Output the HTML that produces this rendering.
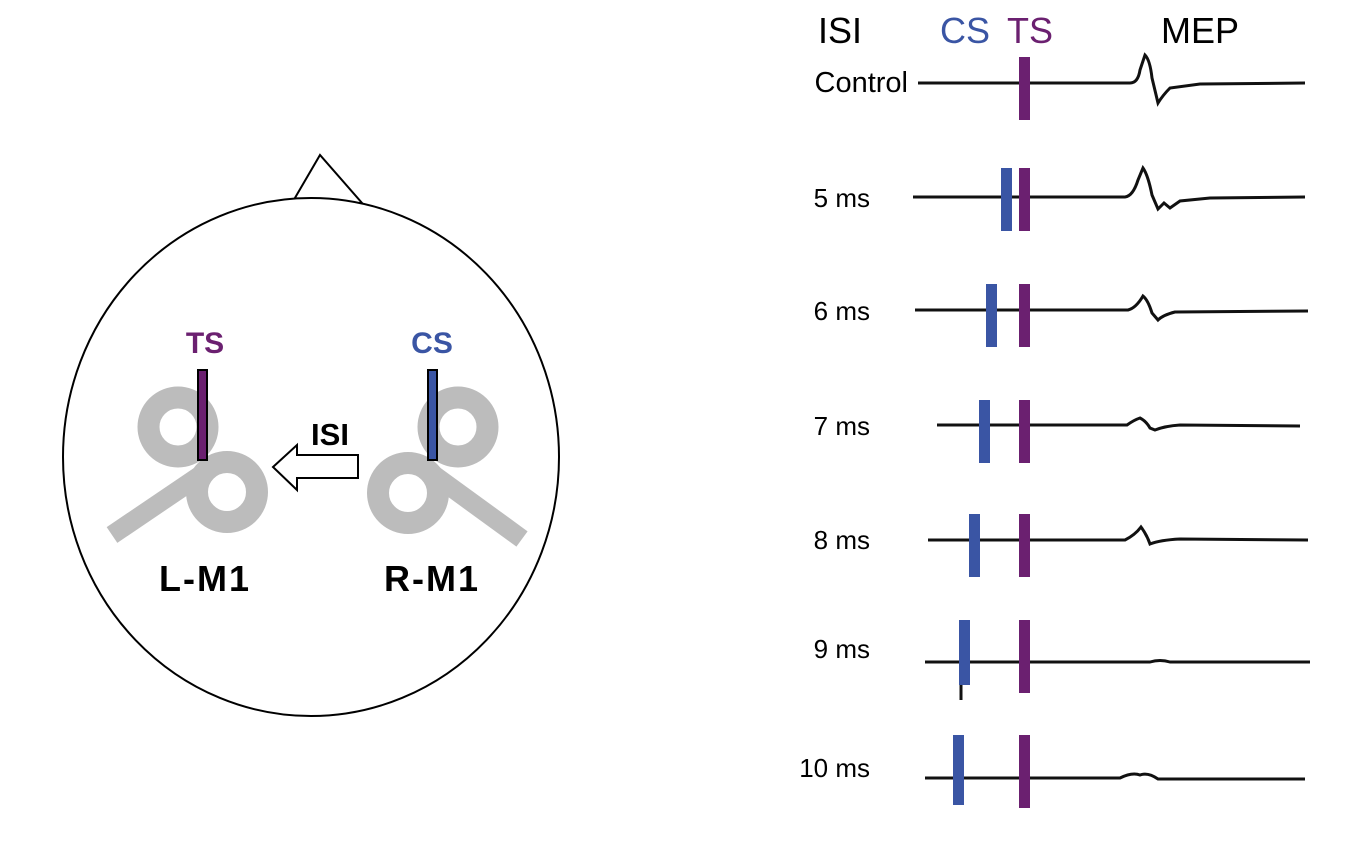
<!DOCTYPE html>
<html><head><style>
body{margin:0;background:#fff;}
svg{display:block;font-family:"Liberation Sans",sans-serif;}
</style></head><body>
<svg width="1371" height="844" viewBox="0 0 1371 844">
<polygon points="292,203 320,155 362,203" fill="#fff" stroke="#000" stroke-width="2"/>
<ellipse cx="311" cy="457" rx="248" ry="259" fill="#fff" stroke="#000" stroke-width="2"/>
<g stroke="#bcbcbc" fill="none">
<line x1="205" y1="472" x2="112" y2="535" stroke-width="19"/>
<circle cx="178" cy="427" r="29.5" stroke-width="22"/>
<circle cx="227" cy="492" r="30" stroke-width="22"/>
<line x1="430" y1="472" x2="522" y2="539" stroke-width="19"/>
<circle cx="458" cy="427" r="29.5" stroke-width="22"/>
<circle cx="408" cy="493" r="30" stroke-width="22"/>
</g>
<rect x="198" y="370" width="9" height="90" fill="#6b2070" stroke="#000" stroke-width="2"/>
<rect x="428" y="370" width="9" height="90" fill="#3a55a4" stroke="#000" stroke-width="2"/>
<text x="205" y="353" font-size="30" font-weight="bold" fill="#6b2070" text-anchor="middle">TS</text>
<text x="432" y="353" font-size="30" font-weight="bold" fill="#3a55a4" text-anchor="middle">CS</text>
<text x="330" y="445" font-size="31" font-weight="bold" text-anchor="middle">ISI</text>
<polygon points="273,467 297,445 297,455 358,455 358,478 297,478 297,490" fill="#fff" stroke="#000" stroke-width="2"/>
<text x="205" y="591" font-size="36" font-weight="bold" text-anchor="middle" letter-spacing="2">L-M1</text>
<text x="432" y="591" font-size="36" font-weight="bold" text-anchor="middle" letter-spacing="2">R-M1</text>
<g font-size="36">
<text x="840" y="43" text-anchor="middle">ISI</text>
<text x="965" y="43" text-anchor="middle" fill="#3a55a4">CS</text>
<text x="1030" y="43" text-anchor="middle" fill="#6b2070">TS</text>
<text x="1200" y="43" text-anchor="middle">MEP</text>
</g>
<g font-size="26" text-anchor="end">
<text x="908" y="92" font-size="29">Control</text>
<text x="870" y="207">5 ms</text>
<text x="870" y="320">6 ms</text>
<text x="870" y="435">7 ms</text>
<text x="870" y="549">8 ms</text>
<text x="870" y="658">9 ms</text>
<text x="870" y="777">10 ms</text>
</g>
<g fill="none" stroke="#111" stroke-width="3">
<path d="M918,83 L1130,83 Q1138,83 1140,70 L1145,55 Q1150,60 1152,78 L1158,103 Q1163,95 1170,88 L1200,84 L1305,83"/>
<path d="M913,197 L1125,197 Q1133,196 1138,180 L1143,168 Q1148,175 1152,195 L1158,209 L1164,203 L1170,208 L1180,201 L1210,198 L1305,197"/>
<path d="M915,310 L1128,310 Q1136,308 1143,296 Q1148,300 1152,313 L1158,320 Q1163,315 1175,312 L1308,311"/>
<path d="M937,425 L1127,425 Q1134,420 1140,418 Q1146,421 1150,428 L1155,430 Q1165,426 1180,425 L1300,426"/>
<path d="M928,540 L1125,540 Q1135,535 1141,527 Q1147,535 1150,544 Q1160,540 1180,539 L1308,540"/>
<path d="M925,662 L1150,662 Q1160,659 1170,662 L1310,662"/>
<path d="M925,778 L1120,778 Q1132,772 1140,775 Q1148,772 1158,779 L1305,779"/>
</g>
<line x1="961" y1="680" x2="961" y2="700" stroke="#111" stroke-width="3"/>
<g fill="#6b2070">
<rect x="1019" y="57" width="11" height="63"/>
<rect x="1019" y="168" width="11" height="63"/>
<rect x="1019" y="284" width="11" height="63"/>
<rect x="1019" y="400" width="11" height="63"/>
<rect x="1019" y="514" width="11" height="63"/>
<rect x="1019" y="620" width="11" height="73"/>
<rect x="1019" y="735" width="11" height="73"/>
</g>
<g fill="#3a55a4">
<rect x="1001" y="168" width="11" height="63"/>
<rect x="986" y="284" width="11" height="63"/>
<rect x="979" y="400" width="11" height="63"/>
<rect x="969" y="514" width="11" height="63"/>
<rect x="959" y="620" width="11" height="65"/>
<rect x="953" y="735" width="11" height="70"/>
</g>
</svg>
</body></html>
